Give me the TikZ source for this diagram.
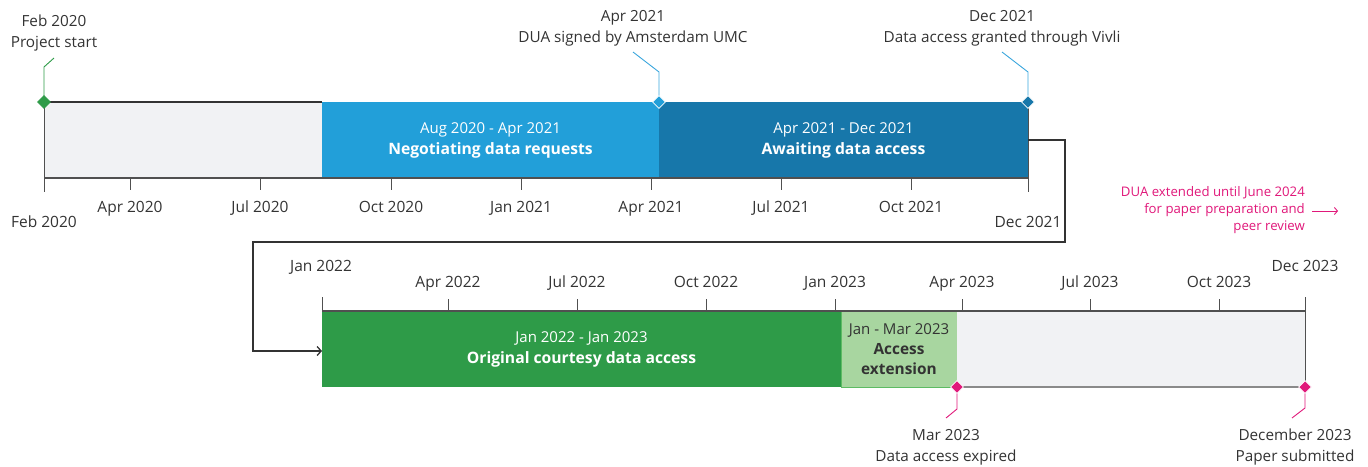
\documentclass[tikz,border=0pt]{standalone}
\usepackage{fontspec}
\setmainfont{Open Sans}
\usetikzlibrary{arrows.meta,shapes.geometric}

\definecolor{ink}{HTML}{333333}
\definecolor{axisgray}{HTML}{505050}
\definecolor{idle}{HTML}{F1F2F4}
\definecolor{idleedge}{HTML}{8A8A8A}
\definecolor{blueA}{HTML}{229FD9}
\definecolor{blueB}{HTML}{1777AA}
\definecolor{blueline}{HTML}{3AA6DD}
\definecolor{greenA}{HTML}{2E9B48}
\definecolor{greenB}{HTML}{A8D6A0}
\definecolor{greenedge}{HTML}{5DBB63}
\definecolor{pinkA}{HTML}{E0187A}

\newcommand{\phasetitle}[1]{{\fontsize{15.7}{21}\selectfont\bfseries #1}}

\tikzset{
  phase/.style={rectangle, inner sep=0pt, outer sep=0pt, anchor=north west,
    align=center, text=white, font=\fontsize{15}{21}\selectfont},
  axisline/.style={draw=axisgray, line width=1.2pt},
  tickmark/.style={draw=axisgray, line width=1pt},
  ticklabel/.style={text=ink, font=\fontsize{15.5}{18}\selectfont, inner sep=0pt,
    text height=11.8pt, text depth=3.7pt, yshift=-1.5pt},
  stone/.style={diamond, inner sep=0pt, minimum size=13pt, draw=white, line width=0.8pt},
  stonelabel/.style={text=ink, align=center, inner sep=0pt,
    font=\fontsize{15.3}{21}\selectfont, yshift=-2.5pt},
  leader/.style={line width=0.9pt},
  conn/.style={draw=ink, line width=1.3pt, -{Straight Barb[length=4pt,width=9pt]}},
}

\begin{document}
\begin{tikzpicture}[x=1pt, y=-1pt]
\useasboundingbox (0,0) rectangle (1368,466);

% ---------------- first row: Feb 2020 -- Dec 2021 ----------------
\node[phase, fill=idle, minimum width=278pt, minimum height=76pt] (prep) at (44,102) {};
\node[phase, fill=blueA, minimum width=337pt, minimum height=76pt] (nego) at (322,102)
  {Aug 2020 - Apr 2021\\\phasetitle{Negotiating data requests}};
\node[phase, fill=blueB, minimum width=369pt, minimum height=76pt] (await) at (659,102)
  {Apr 2021 - Dec 2021\\\phasetitle{Awaiting data access}};

\draw[draw=ink, line width=1.2pt] (prep.north west) -- (prep.north east);
\draw[axisline] (prep.south west) -- (await.south east);
\draw[tickmark] (prep.north west) -- ++(0,90);
\draw[tickmark] (await.north east) -- ++(0,90);
\foreach \x/\t in {130/Apr 2020, 260/Jul 2020, 391/Oct 2020, 521/Jan 2021,
                   651/Apr 2021, 781/Jul 2021, 911/Oct 2021} {
  \draw[tickmark] (\x,178) -- (\x,190);
  \node[ticklabel] at (\x,207) {\t};
}
\node[ticklabel] (tFeb20) at (44,222) {Feb 2020};
\node[ticklabel] (tDec21) at (1028,222) {Dec 2021};

% milestones of the first row
\node[stone, fill=greenA, draw=greenA] (msStart) at (44,102) {};
\coordinate (kStart) at (54,58);
\draw[leader, draw=greenA] (msStart.center) -- ++(0,-35) -- (kStart);
\node[stonelabel] (lStart) at (54,31) {Feb 2020\\Project start};

\coordinate (kDua) at (633,52);
\draw[leader, draw=blueline] (nego.north east) -- ++(0,-30) -- (kDua);
\node[stone, fill=blueA] (msDua) at (659,102) {};
\node[stonelabel] (lDua) at (633,25.5) {Apr 2021\\DUA signed by Amsterdam UMC};

\coordinate (kVivli) at (1002,52);
\draw[leader, draw=blueline] (await.north east) -- ++(0,-30) -- (kVivli);
\node[stone, fill=blueB] (msVivli) at (1028,102) {};
\node[stonelabel] (lVivli) at (1002,25.5) {Dec 2021\\Data access granted through Vivli};

% ---------------- second row: Jan 2022 -- Dec 2023 ----------------
\node[phase, fill=greenA, minimum width=519pt, minimum height=76pt] (orig) at (322,311)
  {Jan 2022 - Jan 2023\\\phasetitle{Original courtesy data access}};
\node[phase, fill=greenB, draw=greenedge, line width=0.8pt, text=ink,
      minimum width=116pt, minimum height=76pt, font=\fontsize{15}{20}\selectfont] (ext) at (841,311)
  {Jan - Mar 2023\\{\fontsize{15.4}{20}\selectfont\bfseries Access}\\{\fontsize{15.4}{20}\selectfont\bfseries extension}};
\node[phase, fill=idle, minimum width=348pt, minimum height=76pt] (after) at (957,311) {};

\draw[draw=idleedge, line width=1.2pt] (after.south west) -- (after.south east);
\draw[tickmark] (after.south east) -- ++(0,-90);
\draw[axisline] (orig.north west) -- (after.north east);
\draw[tickmark] (orig.north west) -- ++(0,-14);
\foreach \x/\t in {448/Apr 2022, 577/Jul 2022, 706/Oct 2022, 835/Jan 2023,
                   962/Apr 2023, 1090/Jul 2023, 1219/Oct 2023} {
  \draw[tickmark] (\x,299) -- (\x,311);
  \node[ticklabel] at (\x,282) {\t};
}
\node[ticklabel] (tJan22) at (321,266) {Jan 2022};
\node[ticklabel] (tDec23) at (1305,266) {Dec 2023};

% milestones of the second row
\coordinate (kExpired) at (946,418);
\draw[leader, draw=pinkA] (ext.south east) -- ++(0,22) -- (kExpired);
\node[stone, fill=pinkA] (msExpired) at (957,387) {};
\node[stonelabel] (lExpired) at (946,444.5) {Mar 2023\\Data access expired};

\coordinate (kSubmit) at (1292,418);
\draw[leader, draw=pinkA] (after.south east) -- ++(0,21) -- (kSubmit);
\node[stone, fill=pinkA] (msSubmit) at (1305,387) {};
\node[stonelabel] (lSubmit) at (1295,444.5) {December 2023\\Paper submitted};

% wrap-around connector between the two rows
\coordinate (bendA) at (1065,242);
\coordinate (bendB) at (253,351);
\draw[conn] (await.east) -| (bendA) -| (bendB) -- (bendB -| orig.west);

% note on the extended agreement
\node[text=pinkA, align=right, anchor=east, inner sep=0pt,
      font=\fontsize{13.2}{17}\selectfont] (note) at (1305,210)
  {DUA extended until June 2024\\for paper preparation and\\peer review};
\coordinate (noteStart) at (1312,211);
\coordinate (noteEnd) at (1338,211);
\draw[draw=pinkA, line width=0.9pt, -{Straight Barb[length=3pt,width=7pt]}]
  (noteStart) -- (noteEnd);
\end{tikzpicture}
\end{document}
